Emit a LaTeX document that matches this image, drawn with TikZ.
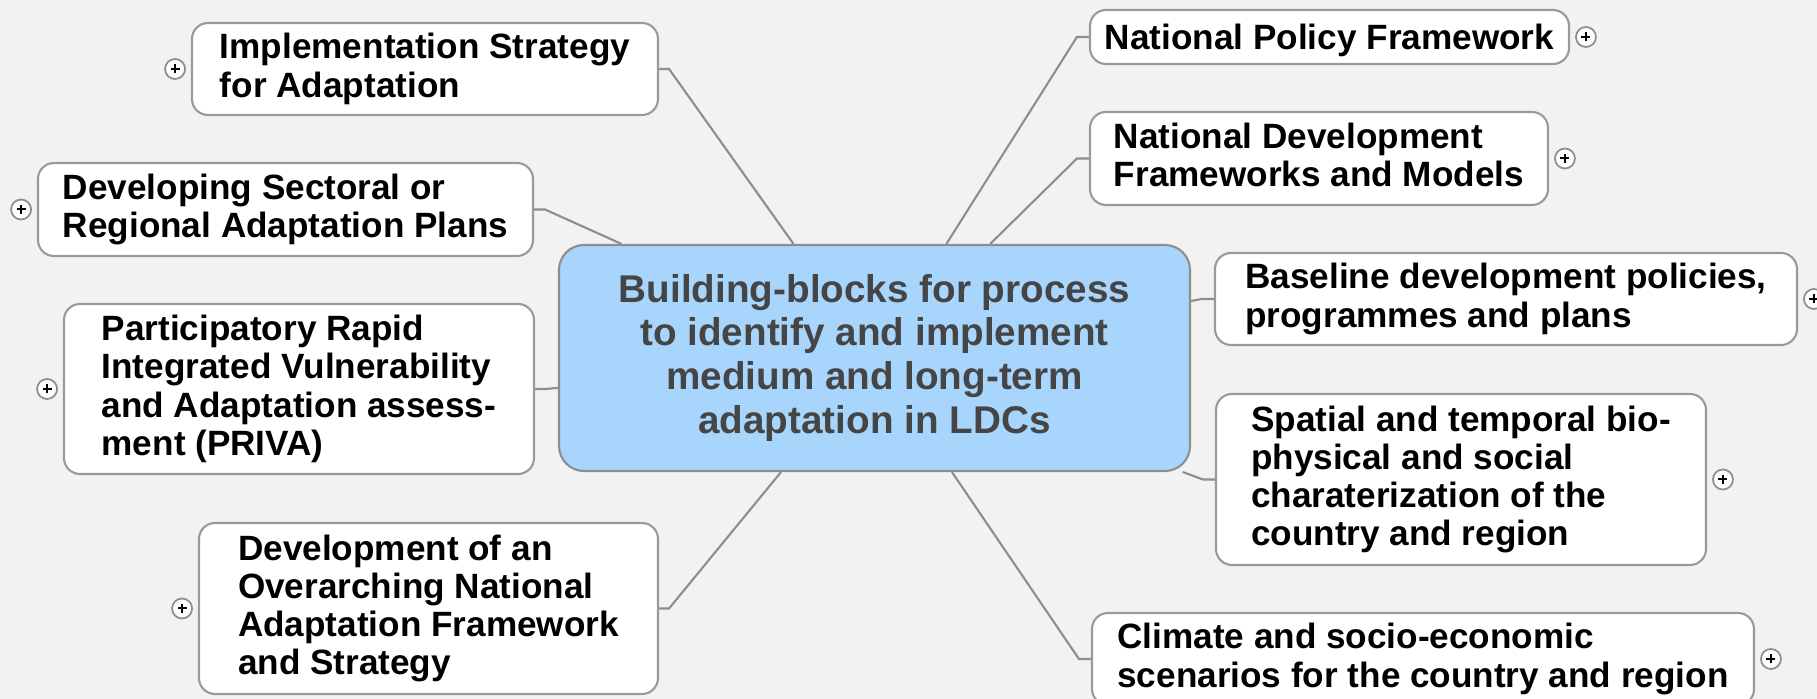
\documentclass[tikz,border=0pt]{standalone}
\usepackage{fontspec}
\setmainfont{Liberation Sans}
\usetikzlibrary{positioning}
\definecolor{paper}{HTML}{F2F2F2}
\definecolor{edgegray}{HTML}{8E8E8E}
\definecolor{boxgray}{HTML}{9A9A9A}
\definecolor{hubblue}{HTML}{A8D5FC}
\definecolor{hubtext}{HTML}{454545}

\begin{document}
\begin{tikzpicture}[x=0.1mm,y=-0.1mm,
  topic/.style={draw=boxgray, fill=white, line width=0.6pt, rounded corners=1.6mm, inner sep=0pt, align=left, font=\fontsize{10pt}{10.87pt}\selectfont\bfseries,
    execute at begin node={\rule[-0.212em]{0pt}{1.117em}}, execute at end node={\rule[-0.212em]{0pt}{0.212em}}},
  hub/.style={draw=edgegray, fill=hubblue, line width=0.6pt, rounded corners=2.5mm, inner sep=0pt, align=center, text=hubtext, minimum width=63.1mm, minimum height=22.6mm, font=\fontsize{11pt}{12.5pt}\selectfont\bfseries,
    execute at begin node={\rule[-0.212em]{0pt}{1.117em}}, execute at end node={\rule[-0.212em]{0pt}{0.212em}}},
  branch/.style={draw=edgegray, line width=0.6pt},
  expander/.style={circle, draw=edgegray, fill=white, line width=0.5pt, minimum size=2mm, inner sep=0pt,
    path picture={\draw[black, line width=0.2mm] (path picture bounding box.center) ++(-0.45mm,0) -- ++(0.9mm,0) (path picture bounding box.center) ++(0,-0.45mm) -- ++(0,0.9mm);}}
]
\useasboundingbox (0,0) rectangle (1817,699);
\clip (0,0) rectangle (1817,699);
\fill[paper] (0,0) rectangle (1817,699);

\node[hub] (blocks) at (874.5,358) {Building-blocks for process\\to identify and implement\\medium and long-term\\adaptation in LDCs}; % Hub

\node[topic, minimum width=46.6mm, minimum height=9.2mm] (impl) at (425,69) {Implementation Strategy\\for Adaptation}; % Topic.0
\node[topic, minimum width=49.5mm, minimum height=9.3mm] (sector) at (285.5,209.5) {Developing Sectoral or\\Regional Adaptation Plans}; % Topic.1
\node[topic, minimum width=47mm, minimum height=17mm] (priva) at (299,389) {Participatory Rapid\\Integrated Vulnerability\\and Adaptation assess-\\ment (PRIVA)}; % Topic.2
\node[topic, minimum width=45.9mm, minimum height=17.1mm] (overarch) at (428.5,608.5) {Development of an\\Overarching National\\Adaptation Framework\\and Strategy}; % Topic.3
\node[topic, minimum width=47.9mm, minimum height=5.4mm] (policy) at (1329.5,37) {National Policy Framework}; % Topic.4
\node[topic, minimum width=45.8mm, minimum height=9.3mm] (devmodel) at (1319,158.5) {National Development\\Frameworks and Models}; % Topic.5
\node[topic, minimum width=58.2mm, minimum height=9.2mm] (baseline) at (1506,299) {Baseline development policies,\\programmes and plans}; % Topic.6
\node[topic, minimum width=49mm, minimum height=17.1mm] (spatial) at (1461,479.5) {Spatial and temporal bio-\\physical and social\\charaterization of the\\country and region}; % Topic.7
\node[topic, minimum width=66.2mm, minimum height=9.2mm] (climate) at (1423,659) {Climate and socio-economic\\scenarios for the country and region}; % Topic.8

\node[expander, left=0.5mm of impl] (impl-plus) {}; % Expand.0
\node[expander, left=0.5mm of sector] (sector-plus) {}; % Expand.1
\node[expander, left=0.5mm of priva] (priva-plus) {}; % Expand.2
\node[expander, left=0.5mm of overarch] (overarch-plus) {}; % Expand.3
\node[expander, right=0.5mm of policy] (policy-plus) {}; % Expand.4
\node[expander, right=0.5mm of devmodel] (devmodel-plus) {}; % Expand.5
\node[expander, right=0.5mm of baseline] (baseline-plus) {}; % Expand.6
\node[expander, right=0.5mm of spatial] (spatial-plus) {}; % Expand.7
\node[expander, right=0.5mm of climate] (climate-plus) {}; % Expand.8

\draw[branch] (blocks) -- ([xshift=1mm]impl.east) -- (impl.east); % Branch.0
\draw[branch] (blocks) -- ([xshift=1.1mm]sector.east) -- (sector.east); % Branch.1
\draw[branch] (blocks) -- ([xshift=1.1mm]priva.east) -- (priva.east); % Branch.2
\draw[branch] (blocks) -- ([xshift=1mm]overarch.east) -- (overarch.east); % Branch.3
\draw[branch] (blocks) -- ([xshift=-1.2mm]policy.west) -- (policy.west); % Branch.4
\draw[branch] (blocks) -- ([xshift=-1.2mm]devmodel.west) -- (devmodel.west); % Branch.5
\draw[branch] (blocks) -- ([xshift=-1.2mm]baseline.west) -- (baseline.west); % Branch.6
\draw[branch] (blocks) -- ([xshift=-1.2mm]spatial.west) -- (spatial.west); % Branch.7
\draw[branch] (blocks) -- ([xshift=-1.2mm]climate.west) -- (climate.west); % Branch.8

\end{tikzpicture}
\end{document}
